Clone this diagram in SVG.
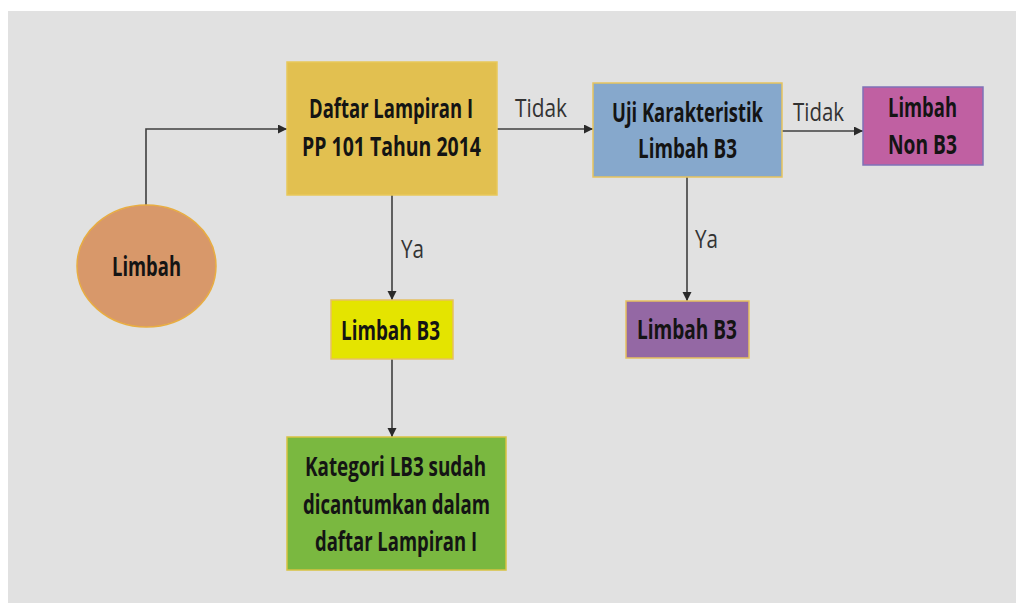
<svg xmlns="http://www.w3.org/2000/svg" width="1016" height="603" viewBox="0 0 1016 603">
<style>
.t{font-family:"Open Sans","Liberation Sans",sans-serif;font-weight:bold;font-size:18px;fill:#141414;text-anchor:middle}
.l{font-family:"Open Sans","Liberation Sans",sans-serif;font-size:20px;fill:#333;text-anchor:middle}
.c{fill:none;stroke:#3f3f3f;stroke-width:1.6}
</style>
<defs>
<marker id="ah" markerUnits="userSpaceOnUse" markerWidth="10" markerHeight="10" refX="9" refY="4.5" orient="auto">
<path d="M0,0 L9,4.5 L0,9 z" fill="#2a2a2a"/>
</marker>
</defs>
<rect x="0" y="0" width="1016" height="603" fill="#ffffff"/>
<rect x="8" y="11" width="1008" height="592" fill="#e1e1e1"/>
<g id="connectors">
<path class="c" d="M146,206 V129 H287" marker-end="url(#ah)"/>
<path class="c" d="M497,129 H593" marker-end="url(#ah)"/>
<path class="c" d="M782,131 H863" marker-end="url(#ah)"/>
<path class="c" d="M392,195 V300" marker-end="url(#ah)"/>
<path class="c" d="M687,177 V301" marker-end="url(#ah)"/>
<path class="c" d="M392,359 V437" marker-end="url(#ah)"/>
<text class="l" transform="translate(541,117) scale(1,1.25)" textLength="52" lengthAdjust="spacingAndGlyphs">Tidak</text>
<text class="l" transform="translate(818.5,121) scale(1,1.25)" textLength="51" lengthAdjust="spacingAndGlyphs">Tidak</text>
<text class="l" transform="translate(412.5,258) scale(1,1.25)" textLength="23" lengthAdjust="spacingAndGlyphs">Ya</text>
<text class="l" transform="translate(706.5,248) scale(1,1.25)" textLength="23" lengthAdjust="spacingAndGlyphs">Ya</text>
</g>
<g id="limbah">
<ellipse cx="146.5" cy="266" rx="69.5" ry="61" fill="#d8986a" stroke="#e8ad42" stroke-width="1.5"/>
<text class="t" transform="translate(146.5,276) scale(1,1.45)" textLength="69" lengthAdjust="spacingAndGlyphs">Limbah</text>
</g>
<g id="daftar">
<rect x="287" y="62" width="210" height="133" fill="#e2c050" stroke="#e8c85a" stroke-width="1.5"/>
<text class="t" transform="translate(391,118) scale(1,1.45)" textLength="164" lengthAdjust="spacingAndGlyphs">Daftar Lampiran I</text>
<text class="t" transform="translate(391.5,156) scale(1,1.45)" textLength="179" lengthAdjust="spacingAndGlyphs">PP 101 Tahun 2014</text>
</g>
<g id="uji">
<rect x="593" y="83" width="189" height="94" fill="#86a8cc" stroke="#e6c35e" stroke-width="1.5"/>
<text class="t" transform="translate(687.5,122) scale(1,1.45)" textLength="151" lengthAdjust="spacingAndGlyphs">Uji Karakteristik</text>
<text class="t" transform="translate(687.5,158) scale(1,1.45)" textLength="99" lengthAdjust="spacingAndGlyphs">Limbah B3</text>
</g>
<g id="nonb3">
<rect x="863" y="87" width="120" height="78" fill="#c060a2" stroke="#7f72b8" stroke-width="1.5"/>
<text class="t" transform="translate(922.5,117) scale(1,1.45)" textLength="69" lengthAdjust="spacingAndGlyphs">Limbah</text>
<text class="t" transform="translate(922.5,154) scale(1,1.45)" textLength="69" lengthAdjust="spacingAndGlyphs">Non B3</text>
</g>
<g id="b3yellow">
<rect x="331" y="300" width="122" height="59" fill="#e4e400" stroke="#e6c060" stroke-width="1.5"/>
<text class="t" transform="translate(390.5,340) scale(1,1.45)" textLength="99" lengthAdjust="spacingAndGlyphs">Limbah B3</text>
</g>
<g id="b3purple">
<rect x="626" y="301" width="123" height="57" fill="#9468a4" stroke="#e6c060" stroke-width="1.5"/>
<text class="t" transform="translate(687,339) scale(1,1.45)" textLength="100" lengthAdjust="spacingAndGlyphs">Limbah B3</text>
</g>
<g id="kategori">
<rect x="287" y="437" width="219" height="133" fill="#7ab840" stroke="#d8c242" stroke-width="1.5"/>
<text class="t" transform="translate(395.5,476) scale(1,1.45)" textLength="181" lengthAdjust="spacingAndGlyphs">Kategori LB3 sudah</text>
<text class="t" transform="translate(396.5,514) scale(1,1.45)" textLength="187" lengthAdjust="spacingAndGlyphs">dicantumkan dalam</text>
<text class="t" transform="translate(396,551) scale(1,1.45)" textLength="162" lengthAdjust="spacingAndGlyphs">daftar Lampiran I</text>
</g>
</svg>
